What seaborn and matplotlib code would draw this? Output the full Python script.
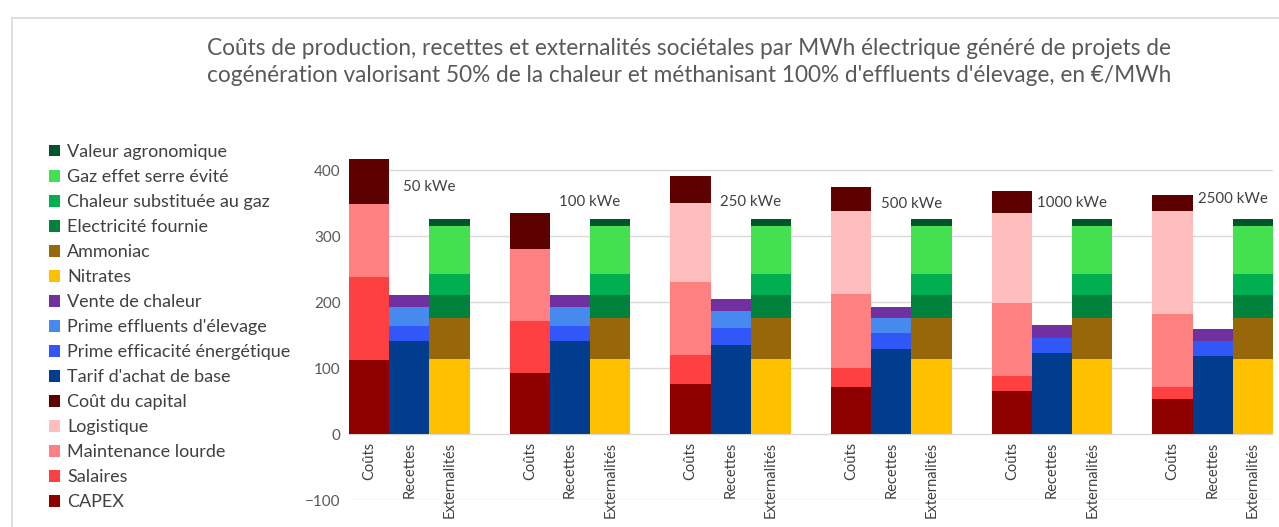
import numpy as np
import pandas as pd
import matplotlib
matplotlib.use("Agg")
import matplotlib.pyplot as plt
from matplotlib.lines import Line2D
import seaborn as sns

# ---------------- data ----------------
groups = ["50 kWe", "100 kWe", "250 kWe", "500 kWe", "1000 kWe", "2500 kWe"]
bar_names = ["Coûts", "Recettes", "Externalités"]

# Coûts components
capex = [112, 93, 76, 71, 66, 54]
salaires = [127, 78, 44, 30, 23, 18]
maintenance = [110, 110, 111, 111, 110, 110]
logistique = [0, 0, 120, 127, 136, 156]
cout_capital = [68, 54, 41, 36, 34, 24]

# Recettes components
tarif_base = [141, 141, 136, 129, 123, 118]
prime_efficacite = [23.5, 23.5, 25, 25, 23, 23]
prime_effluents = [28.5, 28.5, 26, 21.5, 0, 0]
vente_chaleur = [17.6, 17.6, 18, 18, 19.6, 19.2]

# Externalités components
nitrates = [114.5] * 6
ammoniac = [61.5] * 6
electricite = [34.6] * 6
chaleur_gaz = [32.4] * 6
gaz_serre = [72.6] * 6
valeur_agro = [10.4] * 6

# legend order (top to bottom) == stack order (top to bottom)
components = [
    ("Valeur agronomique", 2, valeur_agro, "#00552A"),
    ("Gaz effet serre évité", 2, gaz_serre, "#43E04F"),
    ("Chaleur substituée au gaz", 2, chaleur_gaz, "#00B050"),
    ("Electricité fournie", 2, electricite, "#00823C"),
    ("Ammoniac", 2, ammoniac, "#97670A"),
    ("Nitrates", 2, nitrates, "#FFC000"),
    ("Vente de chaleur", 1, vente_chaleur, "#7030A0"),
    ("Prime effluents d'élevage", 1, prime_effluents, "#468AEF"),
    ("Prime efficacité énergétique", 1, prime_efficacite, "#3157F9"),
    ("Tarif d'achat de base", 1, tarif_base, "#033D8F"),
    ("Coût du capital", 0, cout_capital, "#5C0000"),
    ("Logistique", 0, logistique, "#FFBDBD"),
    ("Maintenance lourde", 0, maintenance, "#FF8080"),
    ("Salaires", 0, salaires, "#FF4040"),
    ("CAPEX", 0, capex, "#8E0000"),
]

rows = []
for name, bar_idx, vals, _ in components:
    for g, v in enumerate(vals):
        rows.append({"pos": 4 * g + bar_idx, "comp": name, "val": v})
df = pd.DataFrame(rows)
hue_order = [c[0] for c in components]
palette = {c[0]: c[3] for c in components}

# ---------------- figure ----------------
sns.set_theme(style="white")
plt.rcParams["font.family"] = ["Lato", "DejaVu Sans"]

fig = plt.figure(figsize=(12.79, 5.27), dpi=100)
ax = fig.add_axes([349 / 1279, 1 - 500.3 / 527, (1273 - 349) / 1279, (500.3 - 150.5) / 527])

sns.histplot(
    data=df, x="pos", weights="val", hue="comp", hue_order=hue_order,
    palette=palette, multiple="stack", discrete=True, shrink=1,
    alpha=1, linewidth=0, ax=ax, legend=True,
)

ax.set_xlim(-0.5, 22.5)
ax.set_ylim(-100, 430)
ax.set_yticks([-100, 0, 100, 200, 300, 400])
ax.set_xticks([])
ax.set_xlabel("")
ax.set_ylabel("")
ax.grid(axis="y", color="#D9D9D9", linewidth=1)
ax.set_axisbelow(True)
for s in ax.spines.values():
    s.set_visible(False)
ax.tick_params(axis="y", length=0, pad=6, labelsize=11, labelcolor="#595959")

# category labels under each bar
for g in range(len(groups)):
    for i, b in enumerate(bar_names):
        ax.text(4 * g + i, -12, b, rotation=90, ha="center", va="top",
                fontsize=10.5, color="#404040")

# group labels
label_y = [375, 352, 352, 349, 351, 357]
for g, lab in enumerate(groups):
    ax.text(4 * g + 1.5, label_y[g], lab, ha="center", va="center",
            fontsize=10.8, color="#404040")

# legend
sns.move_legend(
    ax, "upper left", bbox_to_anchor=(49 / 1279, 1 - 144 / 527),
    bbox_transform=fig.transFigure, frameon=False, title=None,
    fontsize=13, labelspacing=0.5, handlelength=0.62, handleheight=0.62,
    handletextpad=0.4, borderpad=0, borderaxespad=0,
)
for t in ax.get_legend().get_texts():
    t.set_color("#404040")

# title
fig.text(689 / 1279, 1 - 62 / 527,
         "Coûts de production, recettes et externalités sociétales par MWh électrique généré de projets de\n"
         "cogénération valorisant 50% de la chaleur et méthanisant 100% d'effluents d'élevage, en €/MWh",
         ha="center", va="center", fontsize=16.3, color="#595959", linespacing=1.3)

# chart frame lines
fig.add_artist(Line2D([12 / 1279, 1], [1 - 18 / 527, 1 - 18 / 527], transform=fig.transFigure,
                      color="#D9D9D9", linewidth=1.2))
fig.add_artist(Line2D([12 / 1279, 12 / 1279], [0, 1 - 18 / 527], transform=fig.transFigure,
                      color="#D9D9D9", linewidth=1.2))

fig.savefig("out.png", dpi=100)
